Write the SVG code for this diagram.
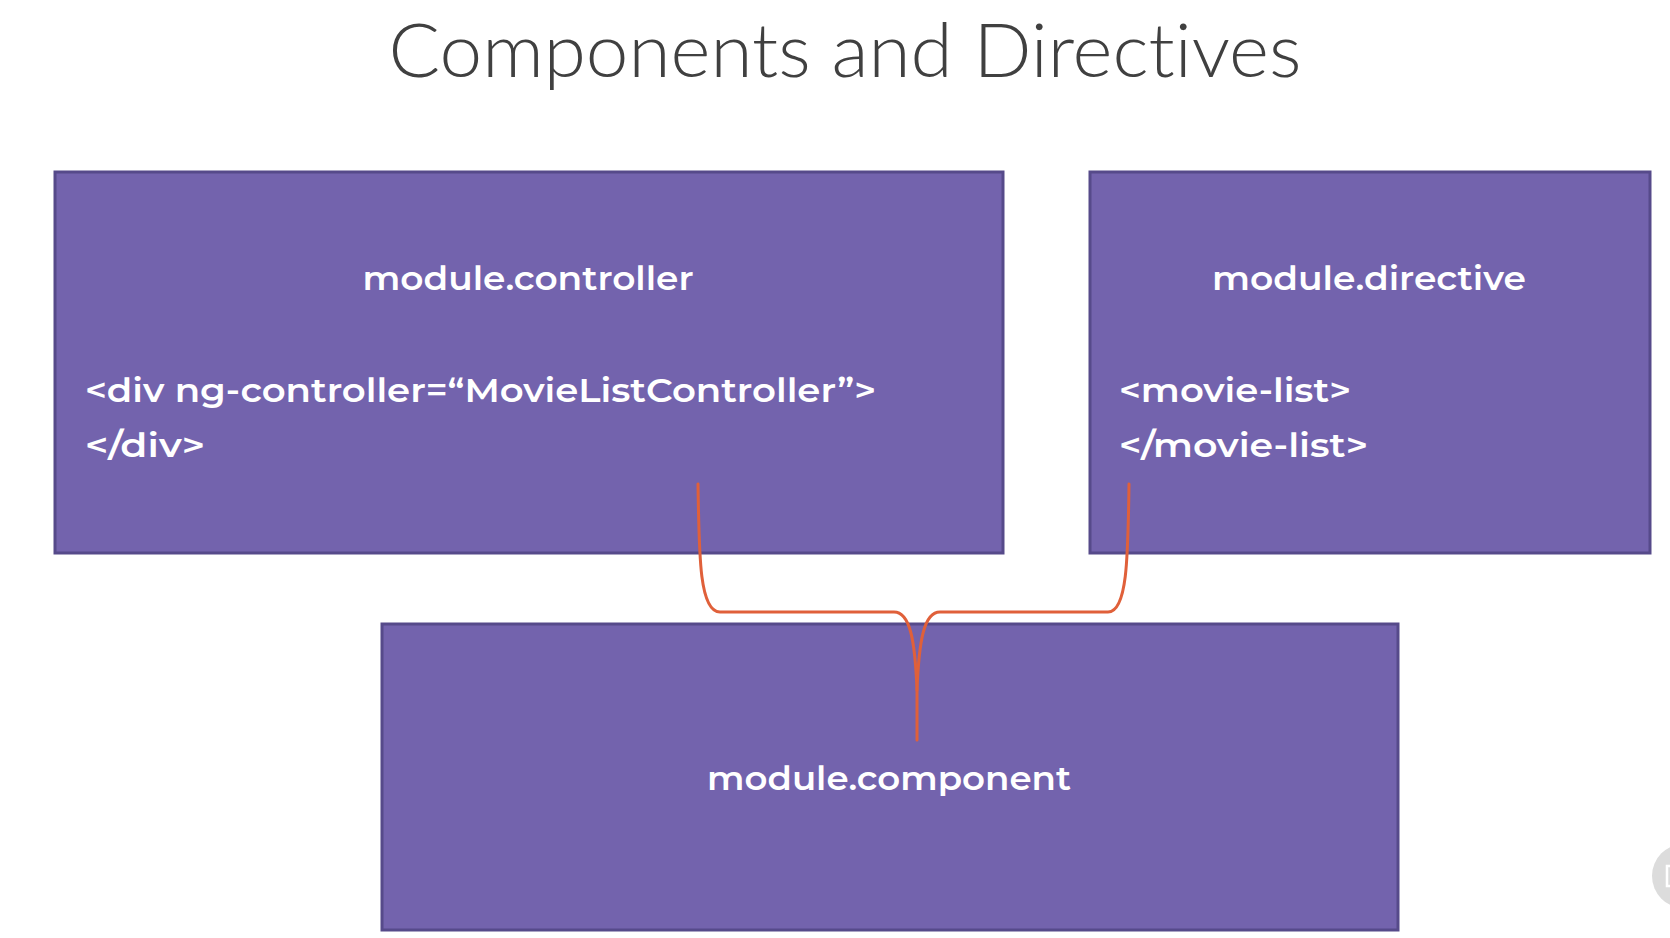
<svg xmlns="http://www.w3.org/2000/svg" width="1670" height="938" viewBox="0 0 1670 938">
  <style>
    .box { fill: #7363ad; stroke: #564a8a; stroke-width: 3; }
    .head { font-family: "Montserrat", "Open Sans", "Liberation Sans", sans-serif; font-weight: 600; font-size: 34px; fill: #ffffff; }
    .code { font-family: "Montserrat", "Open Sans", "Liberation Sans", sans-serif; font-weight: 600; font-size: 34px; fill: #ffffff; }
    .title { font-family: "Lato", "Open Sans", "Liberation Sans", sans-serif; font-weight: 300; font-size: 74px; fill: #404040; font-variant-ligatures: none; }
    .link { fill: none; stroke: #e0603a; stroke-width: 3; stroke-linecap: round; stroke-linejoin: round; }
  </style>
  <rect width="1670" height="938" fill="#ffffff"/>

  <text class="title" x="845" y="77" text-anchor="middle" textLength="913" lengthAdjust="spacingAndGlyphs">Components and Directives</text>

  <g id="controller">
    <rect class="box" x="55" y="172" width="948" height="381"/>
    <text class="head" x="528" y="290" text-anchor="middle" textLength="331" lengthAdjust="spacingAndGlyphs">module.controller</text>
    <text class="code" x="85" y="402" textLength="791" lengthAdjust="spacingAndGlyphs">&lt;div ng-controller=“MovieListController”&gt;</text>
    <text class="code" x="85" y="457" textLength="120" lengthAdjust="spacingAndGlyphs">&lt;/div&gt;</text>
  </g>

  <g id="directive">
    <rect class="box" x="1090" y="172" width="560" height="381"/>
    <text class="head" x="1369" y="290" text-anchor="middle" textLength="314" lengthAdjust="spacingAndGlyphs">module.directive</text>
    <text class="code" x="1119" y="402" textLength="232" lengthAdjust="spacingAndGlyphs">&lt;movie-list&gt;</text>
    <text class="code" x="1119" y="457" textLength="249" lengthAdjust="spacingAndGlyphs">&lt;/movie-list&gt;</text>
  </g>

  <g id="component">
    <rect class="box" x="382" y="624" width="1016" height="306"/>
    <text class="head" x="889" y="790" text-anchor="middle" textLength="364" lengthAdjust="spacingAndGlyphs">module.component</text>
  </g>

  <g id="connectors">
    <path class="link" d="M698,484 C699,560 700,612 720,612 L894,612 C910,612 915,640 917,690 L917,740"/>
    <path class="link" d="M1129,484 C1128,560 1127,612 1108,612 L940,612 C924,612 919,640 917,690"/>
  </g>

  <g id="player-badge">
    <circle cx="1684" cy="876" r="32" fill="#dcdcdc"/>
    <rect x="1667" y="866" width="8" height="20" fill="none" stroke="#ffffff" stroke-width="2.5"/>
  </g>
</svg>
